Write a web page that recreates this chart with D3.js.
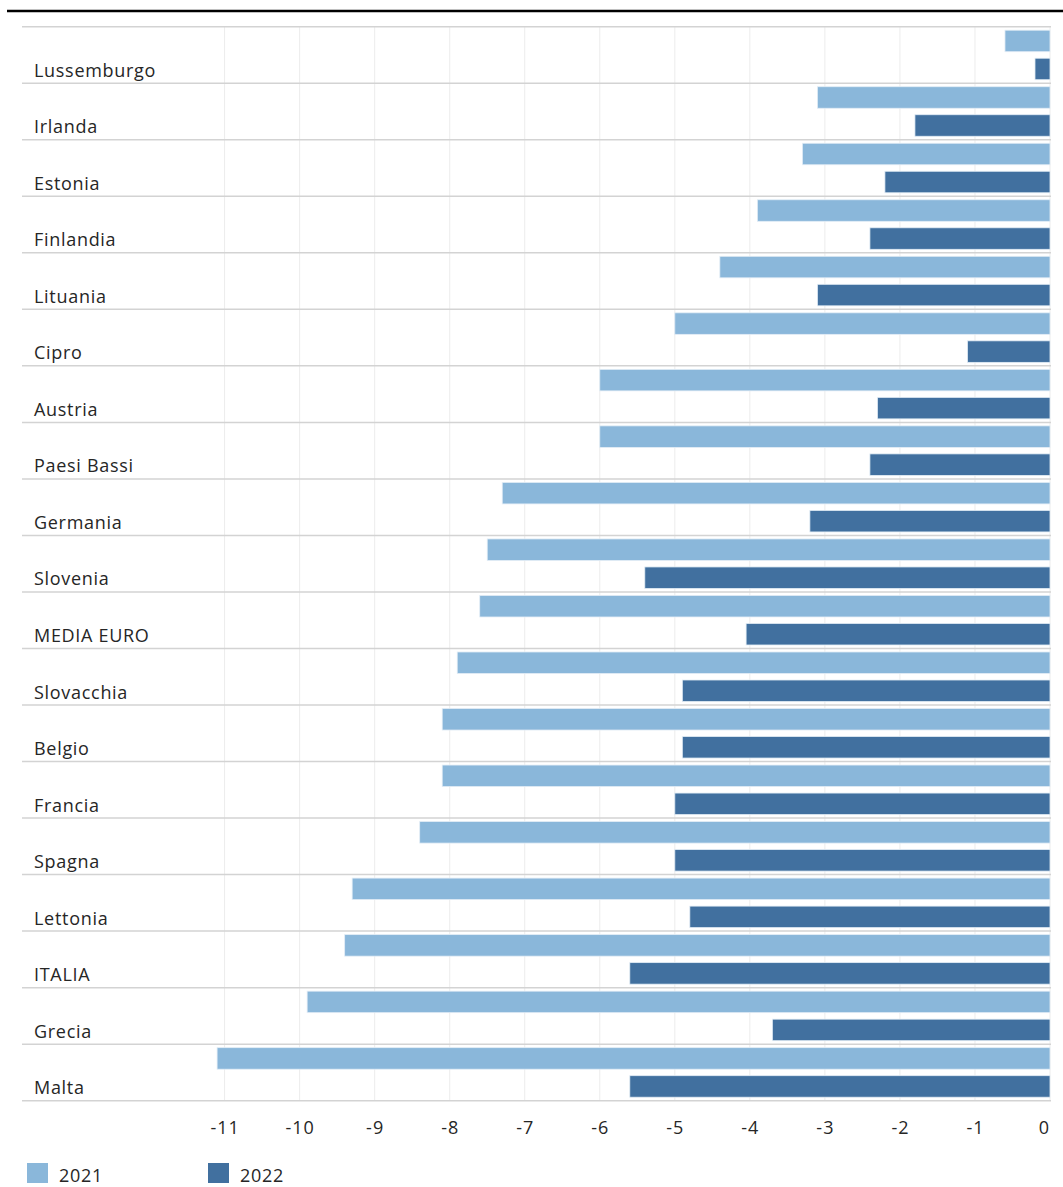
<!DOCTYPE html>
<html>
<head>
<meta charset="utf-8">
<script src="https://cdn.jsdelivr.net/npm/d3@7"></script>
<style>
  body { margin: 0; background: #fff; }
  svg { display: block; font-family: "Open Sans", sans-serif; }
</style>
</head>
<body>
<script>
// Data
var countries = ["Lussemburgo", "Irlanda", "Estonia", "Finlandia", "Lituania", "Cipro",
    "Austria", "Paesi Bassi", "Germania", "Slovenia", "MEDIA EURO", "Slovacchia",
    "Belgio", "Francia", "Spagna", "Lettonia", "ITALIA", "Grecia", "Malta"];
var values2021 = [-0.6, -3.1, -3.3, -3.9, -4.4, -5.0, -6.0, -6.0, -7.3, -7.5, -7.6, -7.9,
    -8.1, -8.1, -8.4, -9.3, -9.4, -9.9, -11.1];
var values2022 = [-0.2, -1.8, -2.2, -2.4, -3.1, -1.1, -2.3, -2.4, -3.2, -5.4, -4.05, -4.9,
    -4.9, -5.0, -5.0, -4.8, -5.6, -3.7, -5.6];
var seriesNames = ["2021", "2022"];
var tickValues = [-11, -10, -9, -8, -7, -6, -5, -4, -3, -2, -1, 0];

var colors = { "2021": "#8ab7da", "2022": "#41709f" };

var svgWidth = 1063;
var svgHeight = 1187;

var svg = d3.select("body")
    .append("svg")
    .attr("width", svgWidth)
    .attr("height", svgHeight);

// table built from the arrays
var rows = countries.map((c, i) => ({
    country: c,
    vals: [{ key: "2021", v: values2021[i] }, { key: "2022", v: values2022[i] }]
}));

// scales
var x = d3.scaleLinear()
    .domain([-13.7, 0])
    .range([22, 1050]);

var y = d3.scaleBand()
    .domain(countries)
    .range([26.7, 1100.7]);

var ySub = d3.scaleBand()
    .domain(seriesNames)
    .range([3.5, y.bandwidth() - 3.5])
    .paddingInner(0.232);

// top rule
svg.append("line")
    .attr("x1", 7).attr("x2", svgWidth)
    .attr("y1", 11).attr("y2", 11)
    .attr("stroke", "#000")
    .attr("stroke-width", 2.5);

// vertical gridlines
svg.append("g")
    .selectAll("line")
    .data(tickValues)
    .enter()
    .append("line")
    .attr("x1", d => x(d)).attr("x2", d => x(d))
    .attr("y1", y.range()[0]).attr("y2", y.range()[1])
    .attr("stroke", "#ececec")
    .attr("stroke-width", 1);

// horizontal separators between categories
var seps = countries.map(c => y(c)).concat([y.range()[1]]);
svg.append("g")
    .selectAll("line")
    .data(seps)
    .enter()
    .append("line")
    .attr("x1", 22).attr("x2", 1051)
    .attr("y1", d => d).attr("y2", d => d)
    .attr("stroke", "#d3d3d3")
    .attr("stroke-width", 1.5);

// bars
var groups = svg.selectAll(".country")
    .data(rows)
    .enter()
    .append("g")
    .attr("class", "country")
    .attr("transform", d => `translate(0, ${y(d.country)})`);

groups.selectAll("rect")
    .data(d => d.vals)
    .enter()
    .append("rect")
    .attr("x", d => x(d.v))
    .attr("y", d => ySub(d.key))
    .attr("width", d => x(0) - x(d.v))
    .attr("height", ySub.bandwidth())
    .attr("fill", d => colors[d.key])
    .attr("stroke", "#e3edf6")
    .attr("stroke-width", 0.8);

// category labels
groups.append("text")
    .attr("x", 34)
    .attr("y", y.bandwidth() - 6.5)
    .attr("font-size", "18px")
    .attr("letter-spacing", "0.7px")
    .attr("fill", "#262626")
    .text(d => d.country);

// x axis labels
var xAxis = d3.axisBottom(x)
    .tickValues(tickValues)
    .tickSize(0)
    .tickPadding(0)
    .tickFormat(d => d3.format("d")(d).replace("\u2212", "-"));

var axisG = svg.append("g")
    .attr("transform", `translate(0, ${y.range()[1]})`)
    .call(xAxis);
axisG.select(".domain").remove();
axisG.selectAll("text")
    .attr("dy", null)
    .attr("y", 33)
    .attr("font-family", "Open Sans, sans-serif")
    .attr("font-size", "18px")
    .attr("letter-spacing", "1px")
    .attr("fill", "#262626");
axisG.selectAll(".tick").filter(d => d === 0).select("text").attr("dx", -6);

// legend
var legend = svg.append("g")
    .selectAll("g")
    .data(seriesNames)
    .enter()
    .append("g")
    .attr("transform", (d, i) => `translate(${27 + i * 181}, 1163)`);

legend.append("rect")
    .attr("width", 21)
    .attr("height", 20)
    .attr("fill", d => colors[d]);

legend.append("text")
    .attr("x", 32)
    .attr("y", 19)
    .attr("font-size", "18px")
    .attr("letter-spacing", "0.7px")
    .attr("fill", "#262626")
    .text(d => d);
</script>
</body>
</html>
